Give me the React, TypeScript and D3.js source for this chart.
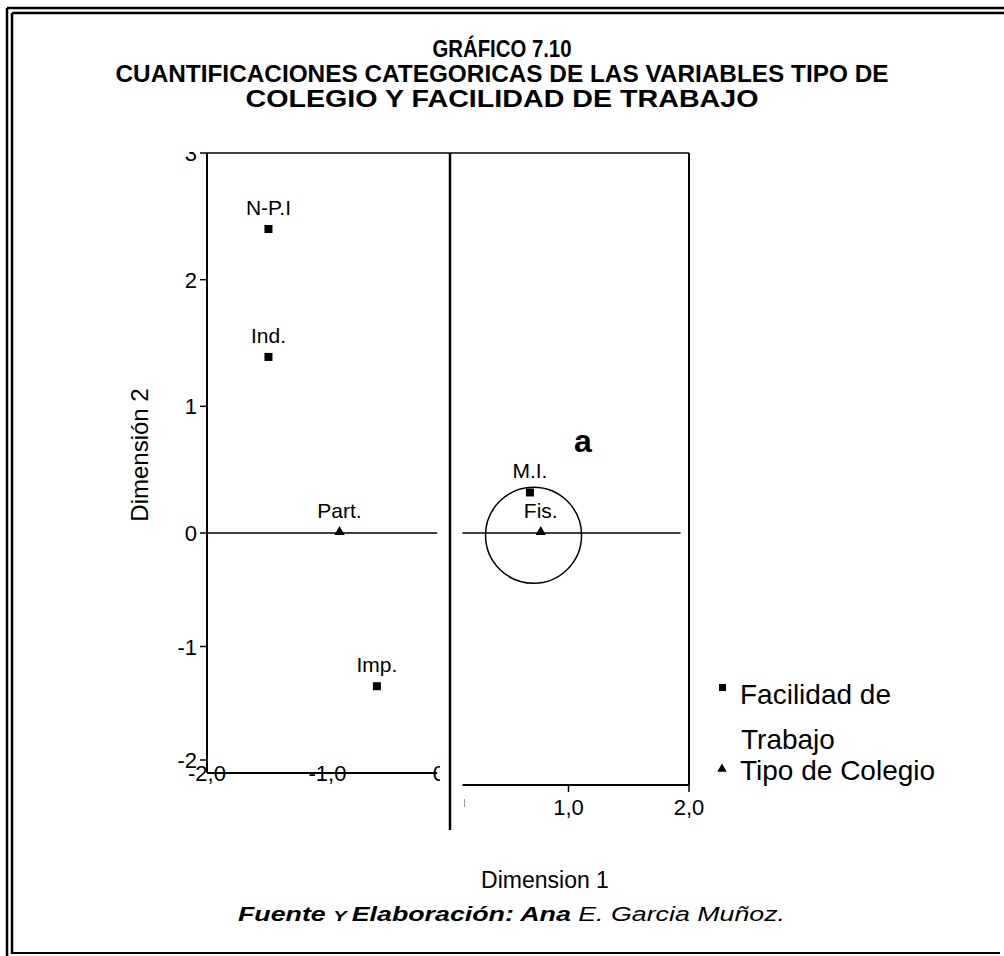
import React from "react";
import * as d3 from "d3";

const titleLines = [
  "GRÁFICO 7.10",
  "CUANTIFICACIONES CATEGORICAS DE LAS VARIABLES TIPO DE",
  "COLEGIO Y FACILIDAD DE TRABAJO",
];
const yTicks = [-2, -1, 0, 1, 2, 3];
const xTicksLeft = [-2, -1, 0];
const xTicksRight = [1, 2];
const facilidadNames = ["N-P.I", "Ind.", "Imp.", "M.I."];
const facilidadX = [-1.49, -1.49, -0.59, 0.68];
const facilidadY = [2.4, 1.39, -1.35, 0.32];
const colegioNames = ["Part.", "Fis."];
const colegioX = [-0.9, 0.77];
const colegioY = [0, 0];
const legendLabels = [["Facilidad de", "Trabajo"], ["Tipo de Colegio"]];

const FONT = "'Liberation Sans', Arial, sans-serif";
const NARROW = "'Liberation Sans Narrow', 'Liberation Sans', Arial, sans-serif";

const fmt = (v: number) => v.toFixed(1).replace(".", ",");

export default function App() {
  const x = d3.scaleLinear().domain([-2, 2]).range([207, 689]);
  const y = d3.scaleLinear().domain([-2, 0, 3]).range([760, 533, 153]);
  const tri = d3.symbol().type(d3.symbolTriangle).size(46)();
  const triLeg = d3.symbol().type(d3.symbolTriangle).size(38)();
  const leftEnd = x(-0.09);
  const rightStart = x(0.12);
  const leftAxisY = 773;
  const rightAxisY = 785;
  return (
    <svg width={1004} height={956} style={{ position: "absolute", left: 0, top: 0, background: "#fff" }}>
      <defs>
        <clipPath id="clipLeft">
          <rect x={0} y={0} width={440} height={956} />
        </clipPath>
        <clipPath id="clipTop">
          <rect x={0} y={152} width={1004} height={800} />
        </clipPath>
      </defs>
      {/* outer double border */}
      <g stroke="#000" fill="none">
        <line x1={7} y1={8} x2={1004} y2={8} strokeWidth={2.5} />
        <line x1={12} y1={13} x2={1004} y2={13} strokeWidth={2.5} />
        <line x1={7} y1={8} x2={7} y2={956} strokeWidth={2.5} />
        <line x1={12} y1={13} x2={12} y2={954} strokeWidth={2.5} />
        <line x1={12} y1={953} x2={1000} y2={953} strokeWidth={2} />
      </g>
      {/* title */}
      {titleLines.map((t, i) => (
        <text key={i} x={502} y={[57, 82, 107][i]} textAnchor="middle" fontFamily={NARROW}
          fontWeight="bold" fontSize={23}
          textLength={[139, 773, 513][i]} lengthAdjust="spacingAndGlyphs">{t}</text>
      ))}
      {/* frame */}
      <g stroke="#000" fill="none">
        <line x1={x(-2)} y1={153} x2={x(2)} y2={153} strokeWidth={1.5} />
        <line x1={x(-2)} y1={153} x2={x(-2)} y2={leftAxisY} strokeWidth={2} />
        <line x1={x(2)} y1={153} x2={x(2)} y2={rightAxisY} strokeWidth={2} />
        <line x1={x(0) + 2} y1={153} x2={x(0) + 2} y2={830} strokeWidth={2.5} />
        {/* y = 0 reference lines */}
        <line x1={x(-2)} y1={y(0)} x2={leftEnd} y2={y(0)} strokeWidth={1.5} />
        <line x1={rightStart} y1={y(0)} x2={x(1.93)} y2={y(0)} strokeWidth={1.5} />
        {/* x axes */}
        <line x1={x(-2)} y1={leftAxisY} x2={leftEnd} y2={leftAxisY} strokeWidth={2} />
        <line x1={rightStart} y1={rightAxisY} x2={x(2)} y2={rightAxisY} strokeWidth={2} />
        {xTicksRight.map((v) => (
          <line key={v} x1={x(v)} y1={rightAxisY} x2={x(v)} y2={rightAxisY + 7} strokeWidth={1.5} />
        ))}
        <line x1={rightStart + 2} y1={rightAxisY + 14} x2={rightStart + 2} y2={rightAxisY + 22} strokeWidth={1} stroke="#999" />
        {/* y ticks */}
        {yTicks.map((v) => (
          <line key={v} x1={x(-2) - 7} y1={y(v)} x2={x(-2)} y2={y(v)} strokeWidth={1.5} />
        ))}
      </g>
      {/* y tick labels */}
      <g clipPath="url(#clipTop)">
        {yTicks.map((v) => (
          <text key={v} x={x(-2) - 10} y={y(v) + 8} textAnchor="end" fontFamily={FONT} fontSize={22}>{v}</text>
        ))}
      </g>
      {/* x tick labels left panel */}
      <g clipPath="url(#clipLeft)">
        {xTicksLeft.map((v) => (
          <text key={v} x={x(v)} y={leftAxisY + 8} textAnchor="middle" fontFamily={FONT} fontSize={22}>{fmt(v)}</text>
        ))}
      </g>
      {xTicksRight.map((v) => (
        <text key={v} x={x(v)} y={rightAxisY + 30} textAnchor="middle" fontFamily={FONT} fontSize={22}>{fmt(v)}</text>
      ))}
      {/* annotation circle */}
      <circle cx={x(0.71)} cy={y(-0.02)} r={48} fill="none" stroke="#000" strokeWidth={1.5} />
      <text x={x(1.12)} y={y(0.64)} textAnchor="middle" fontFamily={FONT} fontWeight="bold" fontSize={32}>a</text>
      {/* facilidad points */}
      {facilidadNames.map((n, i) => (
        <g key={n}>
          <rect x={x(facilidadX[i]) - 4} y={y(facilidadY[i]) - 4} width={8} height={8} fill="#000" />
          <text x={x(facilidadX[i])} y={y(facilidadY[i]) - 14} textAnchor="middle" fontFamily={FONT} fontSize={21}>{n}</text>
        </g>
      ))}
      {/* colegio points */}
      {colegioNames.map((n, i) => (
        <g key={n}>
          <path d={tri!} transform={`translate(${x(colegioX[i])},${y(colegioY[i]) - 1})`} fill="#000" />
          <text x={x(colegioX[i])} y={y(colegioY[i]) - 15} textAnchor="middle" fontFamily={FONT} fontSize={21}>{n}</text>
        </g>
      ))}
      {/* axis titles */}
      <text transform="translate(148,455) rotate(-90)" textAnchor="middle" fontFamily={FONT} fontSize={24}>Dimensión 2</text>
      <text x={545} y={888} textAnchor="middle" fontFamily={FONT} fontSize={23}>Dimension 1</text>
      {/* legend */}
      <rect x={719} y={684} width={7} height={7} fill="#000" />
      <text x={740} y={704} fontFamily={FONT} fontSize={28}>{legendLabels[0][0]}</text>
      <text x={741} y={749} fontFamily={FONT} fontSize={28}>{legendLabels[0][1]}</text>
      <path d={triLeg!} transform="translate(722,769)" fill="#000" />
      <text x={740} y={780} fontFamily={FONT} fontSize={28}>{legendLabels[1][0]}</text>
      {/* footer */}
      <text x={238} y={921} fontFamily={NARROW} fontSize={20} fontStyle="italic" textLength={547} lengthAdjust="spacingAndGlyphs">
        <tspan fontWeight="bold">Fuente </tspan>
        <tspan fontWeight="bold" fontSize={15}>Y </tspan>
        <tspan fontWeight="bold">Elaboración: Ana </tspan>
        <tspan>E. Garcia Muñoz.</tspan>
      </text>
    </svg>
  );
}
